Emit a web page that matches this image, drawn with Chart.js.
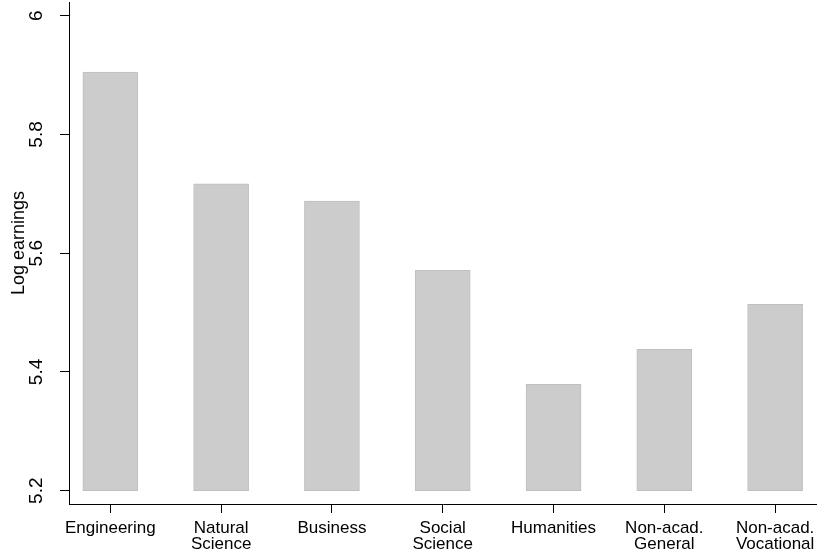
<!DOCTYPE html>
<html>
<head>
<meta charset="utf-8">
<script src="https://cdn.jsdelivr.net/npm/chart.js@4"></script>
<style>
  html, body { margin: 0; padding: 0; background: #fff; }
  #wrap { width: 817px; height: 554px; position: relative; }
</style>
</head>
<body>
<div id="wrap"><canvas id="earningsChart"></canvas></div>
<script>
// data
const categories = ['Engineering', 'Natural Science', 'Business', 'Social Science', 'Humanities', 'Non-acad. General', 'Non-acad. Vocational'];
const categoryLines = [['Engineering'], ['Natural', 'Science'], ['Business'], ['Social', 'Science'], ['Humanities'], ['Non-acad.', 'General'], ['Non-acad.', 'Vocational']];
const logEarnings = [5.905, 5.717, 5.688, 5.571, 5.379, 5.438, 5.514];
const yTicks = [5.2, 5.4, 5.6, 5.8, 6];
const barBase = 5.2;

const FONT = "'Liberation Sans', Arial, sans-serif";

const ctx = document.getElementById('earningsChart').getContext('2d');
new Chart(ctx, {
    type: 'bar',
    data: {
        datasets: [{
            label: 'Log earnings',
            data: logEarnings.map((v, i) => ({ x: i, y: [barBase, v] })),
            backgroundColor: '#cccccc',
            borderColor: '#bfbfbf',
            borderWidth: 1,
            borderSkipped: false,
            barThickness: 55
        }]
    },
    options: {
        responsive: true,
        maintainAspectRatio: false,
        animation: false,
        layout: { padding: { top: 2, left: 0, right: 0, bottom: 0 } },
        plugins: {
            legend: { display: false },
            tooltip: { enabled: false }
        },
        scales: {
            x: {
                type: 'linear',
                offset: false,
                min: -0.373,
                max: 6.378,
                afterBuildTicks: scale => { scale.ticks = categories.map((c, i) => ({ value: i })); },
                afterFit: scale => { scale.height = 50; scale.paddingLeft = 0; scale.paddingRight = 0; },
                border: { display: true, color: '#000', width: 1 },
                grid: { offset: false, drawOnChartArea: false, drawTicks: true, tickLength: 9, color: '#000', tickColor: '#000' },
                ticks: {
                    color: '#000',
                    padding: 7,
                    maxRotation: 0,
                    autoSkip: false,
                    font: { family: FONT, size: 17, lineHeight: '16px' },
                    callback: value => categoryLines[value]
                }
            },
            y: {
                min: 5.1776,
                max: 6.0231,
                afterBuildTicks: scale => { scale.ticks = yTicks.map(v => ({ value: v })); },
                afterFit: scale => { scale.width = 69; scale.paddingTop = 0; scale.paddingBottom = 0; },
                border: { display: true, color: '#000', width: 1 },
                grid: { drawOnChartArea: false, drawTicks: true, tickLength: 9, color: '#000', tickColor: '#000' },
                title: {
                    display: true,
                    text: '    Log earnings',
                    color: '#000',
                    padding: { top: 8, bottom: 0 },
                    font: { family: FONT, size: 18 }
                },
                ticks: {
                    color: '#000',
                    padding: 10,
                    minRotation: 90,
                    maxRotation: 90,
                    crossAlign: 'center',
                    font: { family: FONT, size: 19 },
                    callback: value => String(value)
                }
            }
        }
    }
});
</script>
</body>
</html>
